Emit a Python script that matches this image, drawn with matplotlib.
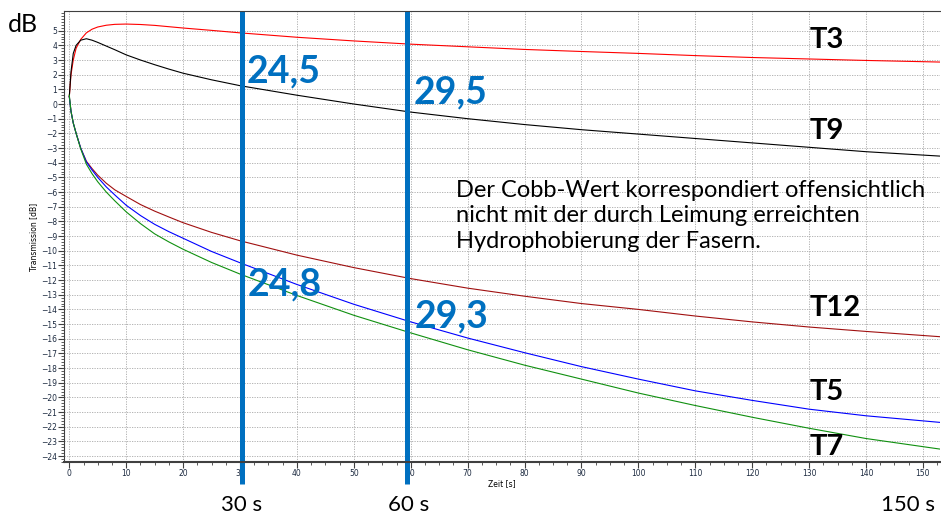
import numpy as np
import matplotlib
matplotlib.use('Agg')
from matplotlib import pyplot as plt
from matplotlib.ticker import MultipleLocator

# Daten
zeit = [0, 0.3, 0.7, 1.2, 2, 3, 4, 5, 6.5, 8, 10, 12.5, 15, 17.5, 20, 25, 30, 40, 50, 60, 70, 80, 90, 100,
        110, 120, 130, 140, 153]

t3 = [0.5, 2.0, 3.0, 3.8, 4.4, 4.85, 5.1, 5.25, 5.37, 5.43, 5.45, 5.42, 5.36, 5.27, 5.18, 5.02, 4.85, 4.55, 4.3,
      4.08, 3.9, 3.72, 3.58, 3.45, 3.3, 3.17, 3.07, 2.97, 2.86]
t9 = [0.5, 2.2, 3.45, 4.0, 4.35, 4.45, 4.35, 4.2, 3.95, 3.7, 3.35, 3.0, 2.68, 2.38, 2.1, 1.65, 1.25, 0.6, 0.0,
      -0.55, -1.0, -1.4, -1.75, -2.05, -2.35, -2.65, -2.95, -3.25, -3.55]
t12 = [0.5, -0.5, -1.3, -2.0, -3.0, -3.9, -4.4, -4.85, -5.4, -5.85, -6.3, -6.85, -7.3, -7.7, -8.09, -8.75, -9.32,
       -10.3, -11.15, -11.9, -12.55, -13.1, -13.6, -14.0, -14.45, -14.85, -15.2, -15.5, -15.86]
t5 = [0.5, -0.5, -1.3, -2.0, -3.0, -3.95, -4.5, -5.0, -5.65, -6.2, -6.9, -7.6, -8.2, -8.7, -9.15, -10.05, -10.82,
      -12.3, -13.65, -14.85, -15.95, -16.95, -17.9, -18.75, -19.55, -20.2, -20.8, -21.25, -21.7]
t7 = [0.6, -0.5, -1.3, -2.0, -3.05, -4.1, -4.75, -5.3, -6.0, -6.6, -7.35, -8.15, -8.85, -9.4, -9.9, -10.8, -11.59,
      -13.05, -14.4, -15.6, -16.75, -17.8, -18.75, -19.7, -20.55, -21.35, -22.1, -22.8, -23.52]

linien_x = [30.3, 59.4]
cobb_oben = ['24,5', '29,5']
cobb_unten = ['24,8', '29,3']
kurven_namen = ['T3', 'T9', 'T12', 'T5', 'T7']

W, H = 941, 523
fig = plt.figure(figsize=(W / 100, H / 100), dpi=100)
ax = fig.add_axes([64 / W, 1 - 462 / H, (940 - 64) / W, (462 - 11) / H])

ax.plot(zeit, t3, color='#ff0000', lw=0.8)
ax.plot(zeit, t9, color='#000000', lw=0.8)
ax.plot(zeit, t12, color='#a01010', lw=0.8)
ax.plot(zeit, t5, color='#0000ff', lw=0.8)
ax.plot(zeit, t7, color='#109010', lw=0.8)

ax.set_xlim(-0.93, 153.0)
ax.set_ylim(-24.4, 6.34)
ax.xaxis.set_major_locator(MultipleLocator(10))
ax.xaxis.set_minor_locator(MultipleLocator(2.5))
ax.yaxis.set_major_locator(MultipleLocator(1))
ax.yaxis.set_minor_locator(MultipleLocator(0.2))
ax.set_yticks(range(-24, 6))
ax.grid(True, which='major', color='#a8a8a8', lw=0.6, linestyle=(0, (1.5, 1.5)))
ax.tick_params(which='major', length=4, width=0.8, labelsize=5.5, labelcolor='#1c2a40', color='#404040', pad=1)
ax.tick_params(which='minor', length=2, width=0.6, color='#404040')
for s in ['left', 'top', 'bottom']:
    ax.spines[s].set_color('#404040')
ax.spines['bottom'].set_linewidth(1.5)
ax.spines['right'].set_visible(False)
ax.set_xlabel('Zeit [s]', fontsize=5.5, labelpad=1)
ax.set_ylabel('Transmission [dB]', fontsize=5.5, labelpad=2)

# blaue Markierungen
for x in linien_x:
    ax.plot([x, x], [6.34, -25.9], color='#0070c0', lw=3.6, clip_on=False, solid_capstyle='butt')


def px(x, y):
    return x / W, 1 - y / H


blau = '#0070c0'
fig.text(*px(247, 71), cobb_oben[0], fontsize=27, fontweight='bold', color=blau, family='Lato', va='center')
fig.text(*px(414, 92), cobb_oben[1], fontsize=27, fontweight='bold', color=blau, family='Lato', va='center')
fig.text(*px(248, 284), cobb_unten[0], fontsize=27, fontweight='bold', color=blau, family='Lato', va='center')
fig.text(*px(415, 316), cobb_unten[1], fontsize=27, fontweight='bold', color=blau, family='Lato', va='center')

for name, y in zip(kurven_namen, [40, 131, 308, 392, 447]):
    fig.text(*px(810, y), name, fontsize=21, fontweight='bold', color='black', family='Lato', va='center')

fig.text(*px(456, 216), 'Der Cobb-Wert korrespondiert offensichtlich\nnicht mit der durch Leimung erreichten\n'
         'Hydrophobierung der Fasern.', fontsize=17, family='Lato', va='center', linespacing=1.25)

fig.text(*px(8, 24), 'dB', fontsize=18, family='Lato', va='center')
fig.text(*px(242, 505), '30 s', fontsize=16, family='Lato', va='center', ha='center')
fig.text(*px(409, 505), '60 s', fontsize=16, family='Lato', va='center', ha='center')
fig.text(*px(908, 505), '150 s', fontsize=16, family='Lato', va='center', ha='center')

fig.savefig('out.png', dpi=100)
